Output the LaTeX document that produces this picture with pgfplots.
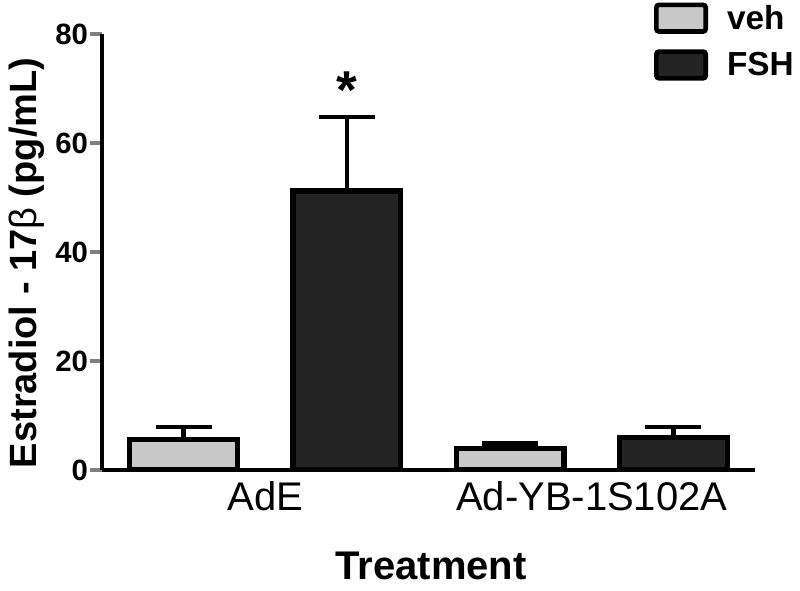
\documentclass[border=0pt]{standalone}
\usepackage{pgfplots}
\pgfplotsset{compat=1.18}
\usepackage{fontspec}
\setmainfont{Liberation Sans}
\definecolor{vehfill}{HTML}{C8C8C8}
\definecolor{fshfill}{HTML}{242424}
\begin{document}
\begin{tikzpicture}
\path[use as bounding box] (0,0) rectangle (600pt,442.5pt);
\begin{axis}[
    at={(76.5pt,90pt)}, anchor=south west,
    scale only axis, width=489.75pt, height=327pt,
    ybar, bar shift=0pt, bar width=0.66,
    xmin=-0.5, xmax=3.5, ymin=0, ymax=80,
    axis x line=bottom, axis y line=left,
    axis line style={line width=3.5pt, -},
    xtick={0.5,2.5}, xticklabels={AdE, Ad-YB-1S102A},
    xtick style={draw=none},
    ytick={0,20,40,60,80},
    ytick style={line width=3.5pt},
    tick align=outside, major tick length=9pt,
    /pgf/number format/assume math mode=true,
    yticklabel style={font=\bfseries\fontsize{22}{22}\selectfont, xshift=2pt},
    xticklabel style={font=\fontsize{30}{30}\selectfont, yshift=4pt},
    xlabel={Treatment},
    xlabel style={font=\bfseries\fontsize{30}{30}\selectfont, inner sep=0pt, at={(axis description cs:0.504,-0.22)}, anchor=center},
    ylabel={Estradiol - 17{\mdseries β} (pg/mL)},
    ylabel style={font=\bfseries\fontsize{28.5}{28.5}\selectfont, inner sep=0pt, at={(axis description cs:-0.115,0.475)}, anchor=center},
    legend style={at={(0.845,1.073)}, anchor=north west, draw=none, fill=none, inner sep=0pt,
        font=\bfseries\fontsize{25}{25}\selectfont, row sep=11.5pt},
    legend cell align={left},
    legend image code/.code={\draw[#1, line width=3.5pt, rounded corners=2pt] (0pt,-10pt) rectangle (37pt,10pt);
        \path (49pt,0pt);},
    error bars/y dir=plus, error bars/y explicit,
    error bars/error mark=|,
    error bars/error bar style={line width=3.5pt, black},
    error bars/error mark options={line width=3.5pt, mark size=21pt, black},
]
% veh
\addplot[fill=vehfill, draw=black, line width=4pt] coordinates {
    (0,5.6) +- (0,2.3)
    (2,4.0) +- (0,0.9)
};
% FSH
\addplot[fill=fshfill, draw=black, line width=4pt] coordinates {
    (1,51.2) +- (0,13.6)
    (3,6.0) +- (0,1.9)
};
\legend{veh,FSH}
\node[font=\bfseries\fontsize{40}{40}\selectfont, anchor=north, inner sep=0pt] at (axis cs:1,73.2) {*};
\end{axis}
\end{tikzpicture}
\end{document}
